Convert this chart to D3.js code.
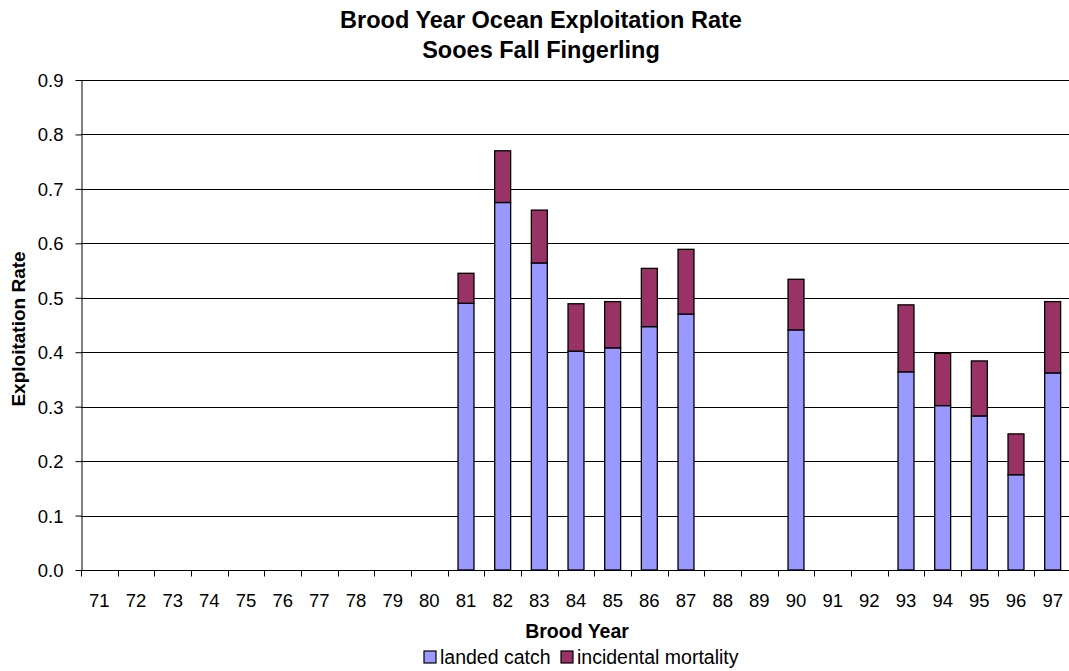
<!DOCTYPE html>
<html><head><meta charset="utf-8">
<script src="https://cdn.jsdelivr.net/npm/d3@7"></script>
<style>body{margin:0;background:#fff;} text{font-family:Arial,"Liberation Sans",sans-serif;}</style>
</head><body>
<svg id="c" width="1069" height="671"></svg>
<script>
const years = ["71","72","73","74","75","76","77","78","79","80","81","82","83","84","85","86","87","88","89","90","91","92","93","94","95","96","97"];
const landedCatch = [0,0,0,0,0,0,0,0,0,0,0.490,0.675,0.564,0.402,0.408,0.447,0.470,0,0,0.441,0,0,0.364,0.302,0.283,0.175,0.362];
const incidentalMortality = [0,0,0,0,0,0,0,0,0,0,0.055,0.095,0.097,0.087,0.085,0.107,0.119,0,0,0.093,0,0,0.123,0.096,0.101,0.075,0.131];
const yTicks = [0,0.1,0.2,0.3,0.4,0.5,0.6,0.7,0.8,0.9];
const seriesNames = ["landed catch","incidental mortality"];
const colors = ["#9999ff","#993366"];

const svg = d3.select("#c");
const L=81, R=1071, T=80, B=570;
const x = d3.scaleBand().domain(years).range([L,R]).paddingInner(0.565).paddingOuter(0.2825);
const y = d3.scaleLinear().domain([0,0.9]).range([B,T]);

// gridlines
svg.append("g").selectAll("line").data(yTicks.filter(d=>d>0)).join("line")
  .attr("x1",L).attr("x2",R).attr("y1",d=>Math.round(y(d))+0.5).attr("y2",d=>Math.round(y(d))+0.5)
  .attr("stroke","#000").attr("stroke-width",1);

// bars
const rows = years.map((yr,i)=>({year:yr, landed:landedCatch[i], incidental:incidentalMortality[i]}));
const stack = d3.stack().keys(["landed","incidental"])(rows);
const bw = (R-L)/years.length;
stack.forEach((s,si)=>{
  svg.append("g").selectAll("rect").data(s.filter(d=>d[1]-d[0]>0)).join("rect")
    .attr("x",d=>x(d.data.year)).attr("width",x.bandwidth())
    .attr("y",d=>y(d[1])).attr("height",d=>y(d[0])-y(d[1]))
    .attr("fill",colors[si]).attr("stroke","#000").attr("stroke-width",1.3);
});

// y axis
const ya = svg.append("g").attr("transform",`translate(${L+0.5},0)`)
  .call(d3.axisLeft(y).tickValues(yTicks).tickFormat(d3.format(".1f")).tickSize(6).tickSizeOuter(0));
ya.select(".domain").attr("stroke","#000");
ya.selectAll("text").attr("font-size",18.5).attr("fill","#000").attr("x",-18).attr("dy","0.35em");
ya.selectAll(".tick line").attr("stroke","#000");

// x axis
const xa = svg.append("g").attr("transform",`translate(0,${B+0.5})`);
xa.append("line").attr("x1",L).attr("x2",R).attr("stroke","#000");
xa.selectAll("line.t").data(d3.range(years.length+1)).join("line").attr("class","t")
  .attr("x1",i=>Math.round(L+i*bw)+0.5).attr("x2",i=>Math.round(L+i*bw)+0.5).attr("y1",0).attr("y2",6).attr("stroke","#000");
xa.selectAll("text").data(years).join("text")
  .attr("x",d=>x(d)+x.bandwidth()/2).attr("y",36).attr("text-anchor","middle").attr("font-size",18.5).text(d=>d);

// titles
svg.append("text").attr("x",541).attr("y",28).attr("text-anchor","middle").attr("font-size",23.5).attr("font-weight","bold").text("Brood Year Ocean Exploitation Rate");
svg.append("text").attr("x",541).attr("y",58).attr("text-anchor","middle").attr("font-size",23.5).attr("font-weight","bold").text("Sooes Fall Fingerling");
svg.append("text").attr("x",577).attr("y",638).attr("text-anchor","middle").attr("font-size",19.5).attr("font-weight","bold").text("Brood Year");
svg.append("text").attr("transform","translate(25,329) rotate(-90)").attr("text-anchor","middle").attr("font-size",19).attr("font-weight","bold").text("Exploitation Rate");

// legend
const lg = svg.append("g");
const lx=[424,561];
seriesNames.forEach((n,i)=>{
  lg.append("rect").attr("x",lx[i]).attr("y",651).attr("width",12).attr("height",12).attr("fill",colors[i]).attr("stroke","#000").attr("stroke-width",1.2);
  lg.append("text").attr("x",lx[i]+16).attr("y",664).attr("font-size",19.5).text(n);
});
</script>
</body></html>
